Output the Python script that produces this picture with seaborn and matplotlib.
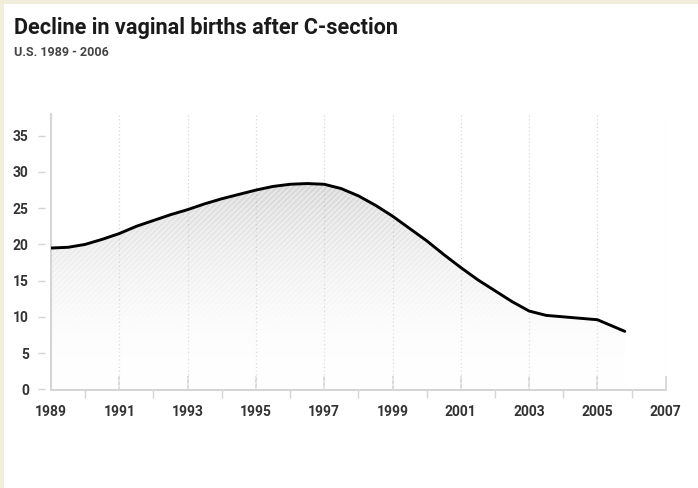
import matplotlib
matplotlib.use("Agg")
import matplotlib.pyplot as plt
import matplotlib.transforms as mtransforms
from matplotlib.colors import LinearSegmentedColormap
from matplotlib.patches import Rectangle
import numpy as np
import pandas as pd
import seaborn as sns

# curve (half-year steps along the drawn line)
curve_years = [1989.0, 1989.5, 1990.0, 1990.5, 1991.0, 1991.5, 1992.0, 1992.5,
               1993.0, 1993.5, 1994.0, 1994.5, 1995.0, 1995.5, 1996.0, 1996.5,
               1997.0, 1997.5, 1998.0, 1998.5, 1999.0, 1999.5, 2000.0, 2000.5,
               2001.0, 2001.5, 2002.0, 2002.5, 2003.0, 2003.5, 2004.0, 2004.5,
               2005.0, 2005.5, 2005.8]
vbac_rate = [19.5, 19.6, 20.0, 20.7, 21.5, 22.5, 23.3, 24.1,
             24.8, 25.6, 26.3, 26.9, 27.5, 28.0, 28.3, 28.4,
             28.3, 27.7, 26.7, 25.4, 23.9, 22.2, 20.5, 18.6,
             16.8, 15.1, 13.6, 12.1, 10.8, 10.2, 10.0, 9.8,
             9.6, 8.6, 8.0]
x_major = list(range(1989, 2008, 2))
x_minor = list(range(1990, 2008, 2))
y_ticks = list(range(0, 36, 5))

title = "Decline in vaginal births after C-section"
subtitle = "U.S. 1989 - 2006"

df = pd.DataFrame({"year": curve_years, "rate": vbac_rate})

sns.set_style("white")
plt.rcParams["font.family"] = ["Roboto", "DejaVu Sans"]

fig = plt.figure(figsize=(6.98, 4.88), dpi=100)
fig.patch.set_facecolor("white")
ax = fig.add_axes([0.0731, 0.2008, 0.8807, 0.5656])

# cream frame strips at top and left
cream = "#f1eedb"
fig.add_artist(Rectangle((0, 1 - 4 / 488), 1, 4 / 488, transform=fig.transFigure,
                         facecolor=cream, edgecolor="none"))
fig.add_artist(Rectangle((0, 0), 4 / 698, 1, transform=fig.transFigure,
                         facecolor=cream, edgecolor="none"))

# shaded area: fading gray gradient plus white hatch stripes
area = ax.fill_between(df["year"], df["rate"], 0, facecolor="none",
                       edgecolor="none", zorder=1)
gray_fade = LinearSegmentedColormap.from_list(
    "fade", [(1, 1, 1, 0), (0.55, 0.55, 0.55, 0.36)])
grad = np.linspace(0, 1, 256).reshape(-1, 1)
im = ax.imshow(grad, cmap=gray_fade, origin="lower", aspect="auto",
               extent=[curve_years[0], curve_years[-1], 0, max(vbac_rate)],
               zorder=1)
im.set_clip_path(area.get_paths()[0], transform=ax.transData)

plt.rcParams["hatch.linewidth"] = 1.0
ax.fill_between(df["year"], df["rate"], 0, facecolor="none",
                edgecolor=(1, 1, 1, 0.5), hatch="//////", linewidth=0, zorder=2)

sns.lineplot(data=df, x="year", y="rate", ax=ax, color="black", linewidth=2.1,
             zorder=4)
for ln in ax.lines:
    ln.set_solid_joinstyle("round")
    ln.set_solid_capstyle("round")

ax.set_xlim(1989, 2007)
ax.set_ylim(-0.1, 38)
ax.set_xlabel("")
ax.set_ylabel("")

# axes styling
for side in ["top", "right"]:
    ax.spines[side].set_visible(False)
for side in ["left", "bottom"]:
    ax.spines[side].set_color("#d4d4d4")
    ax.spines[side].set_linewidth(1.4)

ax.set_xticks(x_major)
ax.set_xticks(x_minor, minor=True)
ax.set_yticks(y_ticks)
ax.tick_params(axis="x", which="both", bottom=True)
ax.tick_params(axis="y", which="major", left=True)
ax.tick_params(axis="x", which="major", direction="in", length=10, width=1.2,
               color="#d4d4d4", pad=11, labelsize=10, labelcolor="#333333")
ax.tick_params(axis="x", which="minor", direction="out", length=6, width=1.0,
               color="#d4d4d4")
ax.tick_params(axis="y", which="major", direction="out", length=5, width=1.0,
               color="#d4d4d4", pad=11, labelsize=10, labelcolor="#333333")
for lbl in ax.get_xticklabels() + ax.get_yticklabels():
    lbl.set_fontweight("bold")

# shift y tick marks away from the spine
offset = mtransforms.ScaledTranslation(-6 / 100, 0, fig.dpi_scale_trans)
for tl in ax.yaxis.get_ticklines():
    tl.set_transform(tl.get_transform() + offset)

ax.grid(axis="x", which="major", linestyle=(0, (1, 2)), color="#d8d8d8",
        linewidth=0.9)
ax.grid(axis="y", visible=False)

fig.text(14 / 698, 1 - 28 / 488, title, fontsize=15.6, fontweight="bold",
         color="#1a1a1a", va="center", ha="left")
fig.text(14 / 698, 1 - 52 / 488, subtitle, fontsize=9, fontweight="bold",
         color="#444444", va="center", ha="left")

fig.savefig("out.png", dpi=100)
